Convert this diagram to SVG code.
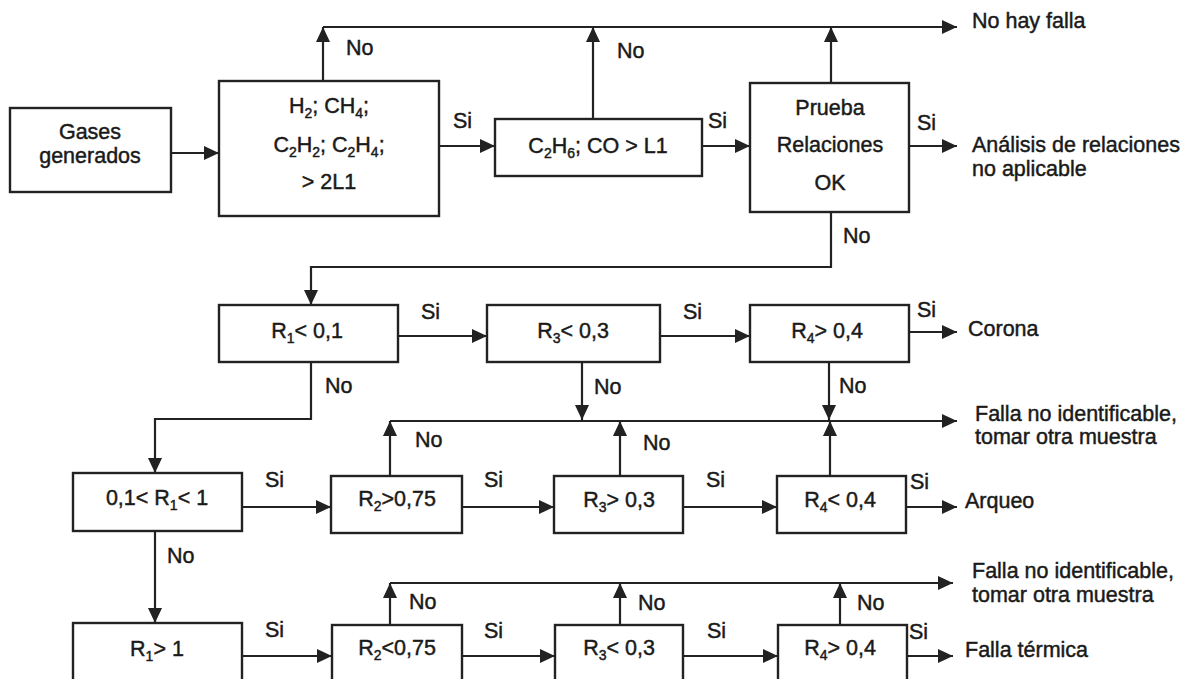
<svg xmlns="http://www.w3.org/2000/svg" width="1195" height="679" viewBox="0 0 1195 679">
<style>
  text { font-family: "Liberation Sans", Arial, sans-serif; font-size: 21.5px; fill: #1a1a1a; stroke: #1a1a1a; stroke-width: 0.45px; }
  .c { text-anchor: middle; }
  .box { fill: #fff; stroke: #222; stroke-width: 2.4; }
  .ln { fill: none; stroke: #222; stroke-width: 2.2; }
  .sub { font-size: 14px; }
</style>
<defs>
  <marker id="ah" markerUnits="userSpaceOnUse" markerWidth="16" markerHeight="14" refX="15" refY="7" orient="auto">
    <path d="M0,0 L15,7 L0,14 z" fill="#222"/>
  </marker>
</defs>
<rect width="1195" height="679" fill="#fff"/>

<g id="connectors">
  <line class="ln" x1="171" y1="153" x2="219" y2="153" marker-end="url(#ah)"/>
  <line class="ln" x1="439" y1="146" x2="495" y2="146" marker-end="url(#ah)"/>
  <line class="ln" x1="702" y1="146" x2="750" y2="146" marker-end="url(#ah)"/>
  <line class="ln" x1="909" y1="146" x2="957" y2="146" marker-end="url(#ah)"/>
  <line class="ln" x1="323" y1="81" x2="323" y2="27" marker-end="url(#ah)"/>
  <line class="ln" x1="593" y1="119" x2="593" y2="27" marker-end="url(#ah)"/>
  <line class="ln" x1="831" y1="83" x2="831" y2="27" marker-end="url(#ah)"/>
  <line class="ln" x1="323" y1="27" x2="957" y2="27" marker-end="url(#ah)"/>
  <polyline class="ln" points="831,212 831,267 311,267 311,305" marker-end="url(#ah)"/>
  <line class="ln" x1="398" y1="336" x2="487" y2="336" marker-end="url(#ah)"/>
  <line class="ln" x1="660" y1="336" x2="750" y2="336" marker-end="url(#ah)"/>
  <line class="ln" x1="909" y1="332" x2="957" y2="332" marker-end="url(#ah)"/>
  <line class="ln" x1="582" y1="362" x2="582" y2="420" marker-end="url(#ah)"/>
  <line class="ln" x1="829" y1="362" x2="829" y2="420" marker-end="url(#ah)"/>
  <line class="ln" x1="390" y1="421" x2="957" y2="421" marker-end="url(#ah)"/>
  <polyline class="ln" points="311,362 311,419 155,419 155,473" marker-end="url(#ah)"/>
  <line class="ln" x1="242" y1="507" x2="331" y2="507" marker-end="url(#ah)"/>
  <line class="ln" x1="390" y1="476" x2="390" y2="421" marker-end="url(#ah)"/>
  <line class="ln" x1="462" y1="507" x2="554" y2="507" marker-end="url(#ah)"/>
  <line class="ln" x1="620" y1="476" x2="620" y2="421" marker-end="url(#ah)"/>
  <line class="ln" x1="683" y1="507" x2="777" y2="507" marker-end="url(#ah)"/>
  <line class="ln" x1="830" y1="476" x2="830" y2="421" marker-end="url(#ah)"/>
  <line class="ln" x1="906" y1="507" x2="957" y2="507" marker-end="url(#ah)"/>
  <line class="ln" x1="155" y1="531" x2="155" y2="623" marker-end="url(#ah)"/>
  <line class="ln" x1="242" y1="656" x2="332" y2="656" marker-end="url(#ah)"/>
  <line class="ln" x1="390" y1="625" x2="390" y2="583" marker-end="url(#ah)"/>
  <line class="ln" x1="462" y1="656" x2="555" y2="656" marker-end="url(#ah)"/>
  <line class="ln" x1="620" y1="625" x2="620" y2="583" marker-end="url(#ah)"/>
  <line class="ln" x1="683" y1="656" x2="778" y2="656" marker-end="url(#ah)"/>
  <line class="ln" x1="840" y1="625" x2="840" y2="583" marker-end="url(#ah)"/>
  <line class="ln" x1="907" y1="656" x2="953" y2="656" marker-end="url(#ah)"/>
  <line class="ln" x1="390" y1="583" x2="953" y2="583" marker-end="url(#ah)"/>
</g>

<g id="labels">
  <text x="346" y="55">No</text>
  <text x="617" y="58">No</text>
  <text x="453" y="128">Si</text>
  <text x="708" y="128">Si</text>
  <text x="917" y="130">Si</text>
  <text x="843" y="243">No</text>
  <text x="421" y="319">Si</text>
  <text x="683" y="319">Si</text>
  <text x="917" y="317">Si</text>
  <text x="325" y="393">No</text>
  <text x="594" y="394">No</text>
  <text x="839" y="393">No</text>
  <text x="265" y="487">Si</text>
  <text x="415" y="447">No</text>
  <text x="484" y="487">Si</text>
  <text x="643" y="450">No</text>
  <text x="706" y="487">Si</text>
  <text x="910" y="489">Si</text>
  <text x="167" y="563">No</text>
  <text x="265" y="637">Si</text>
  <text x="409" y="609">No</text>
  <text x="484" y="638">Si</text>
  <text x="638" y="610">No</text>
  <text x="707" y="638">Si</text>
  <text x="857" y="610">No</text>
  <text x="909" y="639">Si</text>
</g>

<g id="outcomes">
  <text x="972" y="28">No hay falla</text>
  <text x="972" y="152">Análisis de relaciones</text>
  <text x="972" y="176">no aplicable</text>
  <text x="968" y="336">Corona</text>
  <text x="975" y="421">Falla no identificable,</text>
  <text x="975" y="444">tomar otra muestra</text>
  <text x="965" y="508">Arqueo</text>
  <text x="972" y="578">Falla no identificable,</text>
  <text x="972" y="602">tomar otra muestra</text>
  <text x="965" y="657">Falla térmica</text>
</g>

<g id="n-gases">
  <rect class="box" x="10" y="108" width="161" height="84"/>
  <text class="c" x="90" y="139">Gases</text>
  <text class="c" x="90" y="163">generados</text>
</g>
<g id="n-gases-2l1">
  <rect class="box" x="219" y="81" width="220" height="135"/>
  <text class="c" x="329" y="113">H<tspan class="sub" dy="5">2</tspan><tspan dy="-5">; CH</tspan><tspan class="sub" dy="5">4</tspan><tspan dy="-5">;</tspan></text>
  <text class="c" x="329" y="152">C<tspan class="sub" dy="5">2</tspan><tspan dy="-5">H</tspan><tspan class="sub" dy="5">2</tspan><tspan dy="-5">; C</tspan><tspan class="sub" dy="5">2</tspan><tspan dy="-5">H</tspan><tspan class="sub" dy="5">4</tspan><tspan dy="-5">;</tspan></text>
  <text class="c" x="329" y="189">&gt; 2L1</text>
</g>
<g id="n-c2h6">
  <rect class="box" x="495" y="119" width="207" height="57"/>
  <text class="c" x="598" y="153">C<tspan class="sub" dy="5">2</tspan><tspan dy="-5">H</tspan><tspan class="sub" dy="5">6</tspan><tspan dy="-5">; CO &gt; L1</tspan></text>
</g>
<g id="n-prueba">
  <rect class="box" x="750" y="83" width="159" height="129"/>
  <text class="c" x="830" y="115">Prueba</text>
  <text class="c" x="830" y="152">Relaciones</text>
  <text class="c" x="830" y="190">OK</text>
</g>
<g id="n-r1-lt">
  <rect class="box" x="219" y="305" width="179" height="57"/>
  <text class="c" x="307" y="338">R<tspan class="sub" dy="5">1</tspan><tspan dy="-5">&lt; 0,1</tspan></text>
</g>
<g id="n-r3-lt-a">
  <rect class="box" x="487" y="305" width="173" height="57"/>
  <text class="c" x="573" y="338">R<tspan class="sub" dy="5">3</tspan><tspan dy="-5">&lt; 0,3</tspan></text>
</g>
<g id="n-r4-gt-a">
  <rect class="box" x="750" y="305" width="159" height="57"/>
  <text class="c" x="827" y="338">R<tspan class="sub" dy="5">4</tspan><tspan dy="-5">&gt; 0,4</tspan></text>
</g>
<g id="n-r1-mid">
  <rect class="box" x="73" y="473" width="169" height="58"/>
  <text class="c" x="157" y="505">0,1&lt; R<tspan class="sub" dy="5">1</tspan><tspan dy="-5">&lt; 1</tspan></text>
</g>
<g id="n-r2-gt">
  <rect class="box" x="331" y="476" width="131" height="57"/>
  <text class="c" x="397" y="506">R<tspan class="sub" dy="5">2</tspan><tspan dy="-5">&gt;0,75</tspan></text>
</g>
<g id="n-r3-gt">
  <rect class="box" x="554" y="476" width="129" height="57"/>
  <text class="c" x="619" y="507">R<tspan class="sub" dy="5">3</tspan><tspan dy="-5">&gt; 0,3</tspan></text>
</g>
<g id="n-r4-lt">
  <rect class="box" x="777" y="476" width="129" height="57"/>
  <text class="c" x="840" y="507">R<tspan class="sub" dy="5">4</tspan><tspan dy="-5">&lt; 0,4</tspan></text>
</g>
<g id="n-r1-gt">
  <rect class="box" x="73" y="623" width="169" height="80"/>
  <text class="c" x="157" y="656">R<tspan class="sub" dy="5">1</tspan><tspan dy="-5">&gt; 1</tspan></text>
</g>
<g id="n-r2-lt">
  <rect class="box" x="332" y="625" width="130" height="80"/>
  <text class="c" x="397" y="655">R<tspan class="sub" dy="5">2</tspan><tspan dy="-5">&lt;0,75</tspan></text>
</g>
<g id="n-r3-lt-b">
  <rect class="box" x="555" y="625" width="128" height="80"/>
  <text class="c" x="619" y="655">R<tspan class="sub" dy="5">3</tspan><tspan dy="-5">&lt; 0,3</tspan></text>
</g>
<g id="n-r4-gt-b">
  <rect class="box" x="778" y="625" width="129" height="80"/>
  <text class="c" x="840" y="655">R<tspan class="sub" dy="5">4</tspan><tspan dy="-5">&gt; 0,4</tspan></text>
</g>
</svg>
